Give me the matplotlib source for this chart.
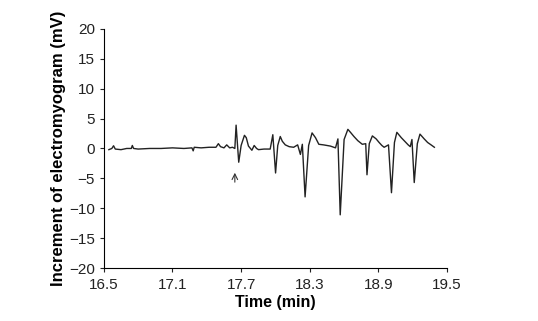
import matplotlib
matplotlib.use("Agg")
import matplotlib.pyplot as plt

plt.rcParams['font.family'] = ['Liberation Sans', 'DejaVu Sans']

time_min = [16.544, 16.570, 16.585, 16.600, 16.650, 16.700, 16.740, 16.749, 16.760, 16.800,
            16.900, 17.000, 17.100, 17.200, 17.270, 17.281, 17.290, 17.350, 17.420, 17.480,
            17.501, 17.520, 17.550, 17.574, 17.600, 17.624, 17.645, 17.656, 17.679, 17.700,
            17.729, 17.745, 17.764, 17.794, 17.814, 17.835, 17.852, 17.900, 17.954, 17.977,
            18.001, 18.020, 18.042, 18.060, 18.086, 18.120, 18.159, 18.194, 18.218, 18.235,
            18.259, 18.290, 18.320, 18.350, 18.379, 18.420, 18.480, 18.525, 18.546, 18.566,
            18.600, 18.633, 18.660, 18.686, 18.720, 18.759, 18.789, 18.800, 18.820, 18.847,
            18.880, 18.906, 18.930, 18.950, 18.988, 19.014, 19.040, 19.061, 19.100, 19.140,
            19.160, 19.178, 19.193, 19.213, 19.240, 19.263, 19.300, 19.330, 19.360, 19.389]
emg_mv = [-0.2, 0.0, 0.45, -0.1, -0.2, 0.0, 0.0, 0.5, 0.0, -0.1,
          0.0, 0.0, 0.1, 0.0, 0.1, -0.4, 0.2, 0.1, 0.2, 0.2,
          0.8, 0.3, 0.1, 0.6, 0.1, 0.2, 0.0, 3.9, -2.3, 0.5,
          2.2, 1.8, 0.4, -0.3, 0.5, 0.0, -0.2, -0.1, -0.1, 2.3,
          -4.1, 0.5, 2.0, 1.2, 0.6, 0.3, 0.2, 0.6, -1.0, 0.7,
          -8.1, 0.5, 2.6, 1.8, 0.7, 0.6, 0.4, 0.1, 1.6, -11.1,
          1.5, 3.2, 2.6, 2.0, 1.3, 0.7, 0.8, -4.4, 0.8, 2.1,
          1.6, 1.0, 0.5, 0.2, 0.6, -7.4, 1.0, 2.7, 1.8, 1.0,
          0.6, 0.3, 1.5, -5.7, 0.8, 2.4, 1.6, 1.0, 0.6, 0.2]
arrow_time = 17.645
arrow_tail = -6.1
arrow_head = -3.6

x_ticks = [16.5, 17.1, 17.7, 18.3, 18.9, 19.5]
y_ticks = [-20, -15, -10, -5, 0, 5, 10, 15, 20]

fig = plt.figure(figsize=(5.38, 3.21), dpi=100)
ax = fig.add_axes([0.193, 0.165, 0.638, 0.745])
ax.plot(time_min, emg_mv, color='#222222', linewidth=1.0)
ax.annotate('', xy=(arrow_time, arrow_head), xytext=(arrow_time, arrow_tail),
            arrowprops=dict(arrowstyle='->', color='#333333', lw=0.8))

ax.set_xlim(16.5, 19.5)
ax.set_ylim(-20, 20)
ax.set_xticks(x_ticks)
ax.set_xticklabels([f"{t:.1f}" for t in x_ticks])
ax.set_yticks(y_ticks)
ax.spines['top'].set_visible(False)
ax.spines['right'].set_visible(False)
ax.tick_params(direction='out', length=3, labelsize=11, colors='#222222')
ax.tick_params(axis='x', pad=4)
ax.set_xlabel('Time (min)', fontsize=11.5, fontweight='bold', labelpad=2)
ax.set_ylabel('Increment of electromyogram (mV)', fontsize=12, fontweight='bold', labelpad=2)

fig.savefig('out.png', dpi=100)
